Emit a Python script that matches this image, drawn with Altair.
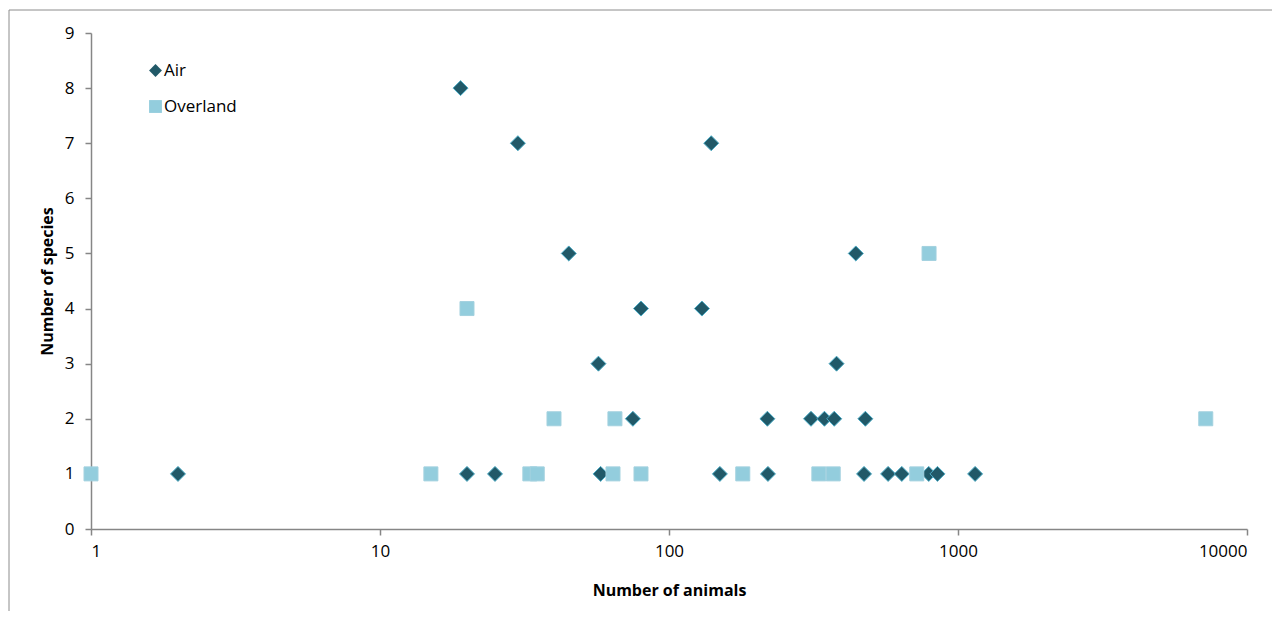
import altair as alt
import pandas as pd

# Air transport: number of animals (x) and number of species (y)
air_animals = [2, 19, 30, 140, 45, 80, 130, 57, 75, 219, 310, 345, 373, 478, 443, 380,
               20, 25, 58, 150, 220, 473, 573, 639, 792, 849, 1146]
air_species = [1, 8, 7, 7, 5, 4, 4, 3, 2, 2, 2, 2, 2, 2, 5, 3,
               1, 1, 1, 1, 1, 1, 1, 1, 1, 1, 1]

# Overland transport
overland_animals = [1, 15, 33, 35, 64, 80, 180, 330, 370, 720, 40, 65, 7200, 20, 794]
overland_species = [1, 1, 1, 1, 1, 1, 1, 1, 1, 1, 2, 2, 2, 4, 5]

series_names = ["Air", "Overland"]
x_ticks = [1, 10, 100, 1000, 10000]
y_ticks = [0, 1, 2, 3, 4, 5, 6, 7, 8, 9]

df = pd.DataFrame({
    "animals": air_animals + overland_animals,
    "species": air_species + overland_species,
    "series": ["Air"] * len(air_animals) + ["Overland"] * len(overland_animals),
})

FONT = "Open Sans"
W, H = 1156, 496
is_air = "datum.series == 'Air'"

points = alt.Chart(df).mark_point(filled=True, opacity=1, strokeWidth=1).encode(
    x=alt.X("animals:Q",
            scale=alt.Scale(type="log", domain=[1, 10000], nice=False),
            axis=alt.Axis(values=x_ticks, labelExpr="format(datum.value, 'd')",
                          title="Number of animals", grid=False,
                          titleBaseline="alphabetic", titleY=66)),
    y=alt.Y("species:Q",
            scale=alt.Scale(domain=[0, 9], nice=False),
            axis=alt.Axis(values=y_ticks, title="Number of species", grid=False,
                          titleX=-39, titleBaseline="alphabetic")),
    fill=alt.Fill("series:N",
                  scale=alt.Scale(domain=series_names, range=["#215968", "#93CDDD"]),
                  legend=alt.Legend(title=None, orient="none", legendX=56, legendY=29,
                                    symbolSize=165, symbolStrokeWidth=0,
                                    labelFontSize=17, labelFont=FONT, labelColor="#000000",
                                    labelOffset=0, rowPadding=18)),
    shape=alt.Shape("series:N",
                    scale=alt.Scale(domain=series_names, range=["diamond", "square"])),
    stroke=alt.condition(is_air, alt.value("#4BACC6"), alt.value("#A3D1DF")),
    size=alt.condition(is_air, alt.value(225), alt.value(196)),
)

frame = alt.Chart(alt.Data(values=[{"f": 1}])).mark_rect(
    fill="transparent", stroke="#8C8C8C", strokeWidth=1
).encode(
    x=alt.value(-82), x2=alt.value(W + 300),
    y=alt.value(-23), y2=alt.value(H + 300),
)

chart = alt.layer(points, frame).properties(
    width=W, height=H,
    autosize=alt.AutoSizeParams(type="none"),
    padding={"left": 83, "top": 25, "right": 25, "bottom": 82},
).configure_view(stroke=None).configure_axis(
    domainColor="#868686", domainWidth=1.5,
    tickColor="#868686", tickWidth=1.5, tickSize=6,
    labelFont=FONT, labelFontSize=17, labelColor="#000000",
    titleFont=FONT, titleFontSize=16, titleFontWeight="bold", titleColor="#000000",
).configure_axisX(labelPadding=8).configure_axisY(labelPadding=11)

chart.save("out.html", embed_options={"renderer": "svg", "actions": False})
